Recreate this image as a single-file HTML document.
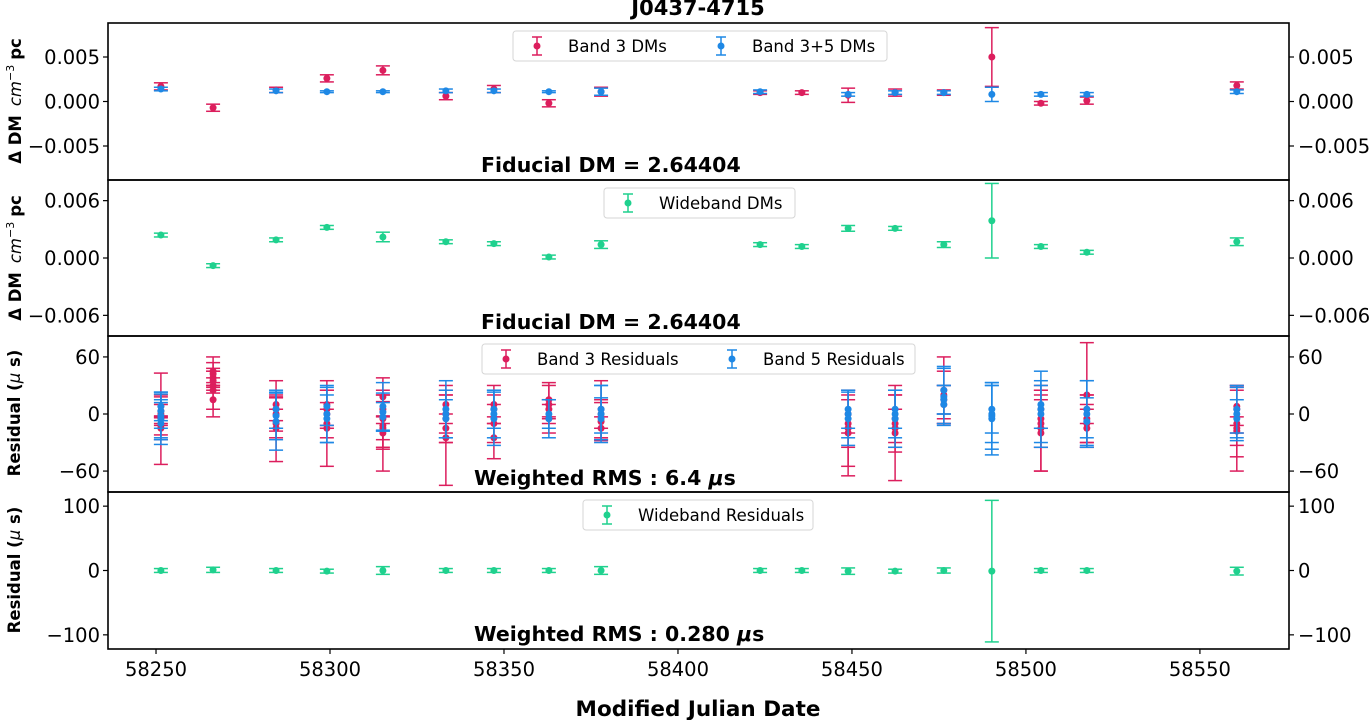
<!DOCTYPE html>
<html><head><meta charset="utf-8">
<style>
body{margin:0;background:#fff;}
svg{display:block;font-family:"DejaVu Sans","Liberation Sans",sans-serif;}
.tk{font-size:19.5px;fill:#000;}
.lg{font-size:16.5px;fill:#000;}
.bt{font-size:20.5px;font-weight:bold;fill:#000;}
</style></head>
<body>
<svg id="fig" width="1371" height="720" viewBox="0 0 1371 720">
<text x="698" y="15" text-anchor="middle" font-size="21" font-weight="bold">J0437-4715</text>
<text x="698" y="716" text-anchor="middle" font-size="21.5" font-weight="bold">Modified Julian Date</text>
<g id="layer"></g>
</svg>
<script>
const epochs=[58251.4,58266.4,58284.5,58299.1,58315.2,58333.3,58347.1,58362.9,58377.9,58423.6,58435.6,58448.9,58462.4,58476.4,58490.2,58504.3,58517.5,58560.6];
const b3DM=[0.0017,-0.0007,0.0013,0.0026,0.0035,0.0006,0.0014,-0.0002,0.0011,0.0010,0.0010,0.0007,0.0010,0.0010,0.0050,-0.0002,0.0001,0.0018];
const b3DMerr=[0.0004,0.0004,0.0003,0.0004,0.0005,0.0004,0.0004,0.0004,0.0005,0.0002,0.0002,0.0008,0.0004,0.0003,0.0033,0.0002,0.0004,0.0004];
const b35DM=[0.0014,null,0.0012,0.0011,0.0011,0.0012,0.0012,0.0011,0.0011,0.0011,null,0.0008,0.0010,0.0010,0.0008,0.0008,0.0008,0.0011];
const b35DMerr=[0.0002,null,0.0002,0.0001,0.0001,0.0002,0.0002,0.0001,0.0004,0.0002,null,0.0002,0.0002,0.0002,0.0008,0.0002,0.0002,0.0002];
const wbDM=[0.0024,-0.0008,0.0019,0.0032,0.0022,0.0017,0.0015,0.0001,0.0014,0.0014,0.0012,0.0031,0.0031,0.0014,0.0039,0.0012,0.0006,0.0017];
const wbDMerr=[0.0002,0.0002,0.0002,0.0002,0.0005,0.0002,0.0002,0.0002,0.0004,0.0002,0.0002,0.0003,0.0002,0.0003,0.0039,0.0002,0.0002,0.0004];
const b3Res=[[8,-12,-5,3,-15,0],[38,42,30,25,15,45,35],[10,-10,-15,5,0],[-15,5,10,-10,0],[18,-12,-20,5,-5,-15],[10,-25,-5,-15,0],[-25,-10,5,10],[10,-5,15,5],[-8,5,-15,0],[],[],[-15,-20,-10,0],[-10,-20,-5,-15],[20,15,25,10],[],[-15,-20,-10,5,-5],[20,-10,-5,5,-15],[-15,5,-10,8,-18]];
const b3ResErr=[[12,10,48,15,12,10],[10,12,8,20,18,15,10],[25,15,35,12,18],[40,20,25,15,12],[20,25,40,15,30,12],[20,50,25,15,20],[22,20,15,20],[20,15,18,10],[20,30,12,15],[],[],[40,45,25,20],[30,50,25,20],[25,15,35,20],[],[45,40,25,20,30],[55,20,25,15,20],[45,25,35,20,15]];
const b5Res=[[-5,3,-2,8,-10],[],[-2,5,-8],[0,-5,8],[2,8,-3],[0,-5,5],[0,5,-5],[-5,0],[5,-5,0],[],[],[0,5,-5],[0,-5,5],[18,10,25,15],[-2,0,5,-5],[5,0,10],[0,5,-8],[0,-5,5]];
const b5ResErr=[[20,18,25,15,22],[],[25,20,30],[30,25,20],[20,25,15],[25,20,30],[25,20,28],[20,15],[25,22,30],[],[],[25,20,28],[25,30,20],[30,20,25,15],[35,30,25,38],[40,30,25],[35,30,25],[28,20,25]];
const wbRes=[0,1,0,-1,0,0,0,0,0,0,0,-1,-1,0,-1,0,0,-1];
const wbResErr=[3,4,3,3,6,3,3,3,6,3,3,5,3,4,110,3,3,6];
const xTicks=[58250,58300,58350,58400,58450,58500,58550];

const NS="http://www.w3.org/2000/svg";
const L=document.getElementById('layer');
const PINK="#dc1e5d",BLUE="#1e88e5",GREEN="#1fd18e";
const X0=108,X1=1289,MJD0=58236.2,MJD1=58575.6;
function xs(m){return X0+(m-MJD0)/(MJD1-MJD0)*(X1-X0);}
function mk(tag,attrs,parent){const e=document.createElementNS(NS,tag);for(const k in attrs)e.setAttribute(k,attrs[k]);(parent||L).appendChild(e);return e;}
const panels=[
 {top:23,bot:180,lim:0.00882,ticks:[-0.005,0,0.005],fmt:v=>(v<0?'\u2212':'')+Math.abs(v).toFixed(3)},
 {top:180,bot:336,lim:0.00816,ticks:[-0.006,0,0.006],fmt:v=>(v<0?'\u2212':'')+Math.abs(v).toFixed(3)},
 {top:336,bot:492,lim:82,ticks:[-60,0,60],fmt:v=>(v<0?'\u2212':'')+Math.abs(v)},
 {top:492,bot:649,lim:122,ticks:[-100,0,100],fmt:v=>(v<0?'\u2212':'')+Math.abs(v)}
];
panels.forEach(p=>{p.ys=v=>(p.top+p.bot)/2-v/p.lim*(p.bot-p.top)/2;});
function errbar(g,x,y,e,color,p,name){
  const gg=mk('g',{},g);
  
  
  const y1=p.ys(y+e),y2=p.ys(y-e);
  mk('line',{x1:x,x2:x,y1:y1,y2:y2,stroke:color,'stroke-width':1.5},gg);
  mk('line',{x1:x-7,x2:x+7,y1:y1,y2:y1,stroke:color,'stroke-width':1.5},gg);
  mk('line',{x1:x-7,x2:x+7,y1:y2,y2:y2,stroke:color,'stroke-width':1.5},gg);
  mk('circle',{cx:x,cy:p.ys(y),r:3.5,fill:color},gg);
}
const g1=mk('g',{});
epochs.forEach((m,i)=>errbar(g1,xs(m),b3DM[i],b3DMerr[i],PINK,panels[0],'band3-dm-point'));
const g2=mk('g',{});
epochs.forEach((m,i)=>{if(b35DM[i]!==null)errbar(g2,xs(m),b35DM[i],b35DMerr[i],BLUE,panels[0],'band35-dm-point');});
const g3=mk('g',{});
epochs.forEach((m,i)=>errbar(g3,xs(m),wbDM[i],wbDMerr[i],GREEN,panels[1],'wideband-dm-point'));
const g4=mk('g',{});
epochs.forEach((m,i)=>b3Res[i].forEach((v,j)=>errbar(g4,xs(m),v,b3ResErr[i][j],PINK,panels[2],'band3-residual-point')));
const g5=mk('g',{});
epochs.forEach((m,i)=>b5Res[i].forEach((v,j)=>errbar(g5,xs(m),v,b5ResErr[i][j],BLUE,panels[2],'band5-residual-point')));
const g6=mk('g',{});
epochs.forEach((m,i)=>errbar(g6,xs(m),wbRes[i],wbResErr[i],GREEN,panels[3],'wideband-residual-point'));
panels.forEach((p,k)=>{
  const r=mk('rect',{x:X0,y:p.top,width:X1-X0,height:p.bot-p.top,fill:'none',stroke:'#000','stroke-width':1.6});
  
  
  p.ticks.forEach(v=>{
    const y=p.ys(v);
    mk('line',{x1:X0-5,x2:X0,y1:y,y2:y,stroke:'#000','stroke-width':1.2});
    mk('line',{x1:X1,x2:X1+5,y1:y,y2:y,stroke:'#000','stroke-width':1.2});
    const t=mk('text',{x:X0-8,y:y+7,'text-anchor':'end',class:'tk'});t.textContent=p.fmt(v);
    
    
    const t2=mk('text',{x:X1+9,y:y+7,class:'tk'});t2.textContent=p.fmt(v);
    
    
  });
});
xTicks.forEach(m=>{
  const x=xs(m);
  mk('line',{x1:x,x2:x,y1:649,y2:654,stroke:'#000','stroke-width':1.2});
  const t=mk('text',{x:x,y:676,'text-anchor':'middle',class:'tk'});t.textContent=m;
  
  
});
function ylab(cx,cy,html,name){
  const t=mk('text',{transform:`translate(${cx},${cy}) rotate(-90)`,'text-anchor':'middle','font-size':16.5});
  t.innerHTML=html;
  
  
}
const dmLab='<tspan font-weight="bold">Δ DM</tspan><tspan font-style="italic" dx="9">cm</tspan><tspan font-size="11" dy="-7">−3</tspan><tspan font-weight="bold" dy="7" dx="5">pc</tspan>';
ylab(21,101,dmLab,'y-axis-title-dm');
ylab(21,258,dmLab,'y-axis-title-wideband-dm');
ylab(20,413,'<tspan font-weight="bold">Residual (</tspan><tspan font-style="italic">μ</tspan><tspan font-weight="bold"> s)</tspan>','y-axis-title-residual');
ylab(20,570,'<tspan font-weight="bold">Residual (</tspan><tspan font-style="italic">μ</tspan><tspan font-weight="bold"> s)</tspan>','y-axis-title-wideband-residual');
function ann(x,y,html,name){const t=mk('text',{x:x,y:y,class:'bt'});t.innerHTML=html;}
ann(481,172,'Fiducial DM = 2.64404','fiducial-dm-label');
ann(481,329,'Fiducial DM = 2.64404','fiducial-dm-label-wideband');
ann(474,485,'Weighted RMS : 6.4 <tspan font-style="italic">μ</tspan>s','weighted-rms-label');
ann(474,641,'Weighted RMS : 0.280 <tspan font-style="italic">μ</tspan>s','weighted-rms-label-wideband');
function legend(x,y,w,items,name){
  const g=mk('g',{});
  
  
  mk('rect',{x:x,y:y,width:w,height:30,rx:3,fill:'#fff',stroke:'#d6d6d6','stroke-width':1},g);
  items.forEach(it=>{
    const e=mk('g',{},g);
    
    
    const cx=x+it.dx,cy=y+15;
    mk('line',{x1:cx,x2:cx,y1:cy-9,y2:cy+9,stroke:it.c,'stroke-width':1.5},e);
    mk('line',{x1:cx-5,x2:cx+5,y1:cy-9,y2:cy-9,stroke:it.c,'stroke-width':1.5},e);
    mk('line',{x1:cx-5,x2:cx+5,y1:cy+9,y2:cy+9,stroke:it.c,'stroke-width':1.5},e);
    mk('circle',{cx:cx,cy:cy,r:3.5,fill:it.c},e);
    const t=mk('text',{x:cx+31,y:cy+6,class:'lg'},e);t.textContent=it.t;
  });
}
legend(513,31,374,[{dx:24,c:PINK,t:'Band 3 DMs'},{dx:208,c:BLUE,t:'Band 3+5 DMs'}],'legend-dm');
legend(604,188,191,[{dx:24,c:GREEN,t:'Wideband DMs'}],'legend-wideband-dm');
legend(482,344,433,[{dx:24,c:PINK,t:'Band 3 Residuals'},{dx:250,c:BLUE,t:'Band 5 Residuals'}],'legend-residuals');
legend(583,500,230,[{dx:24,c:GREEN,t:'Wideband Residuals'}],'legend-wideband-residuals');
</script>
</body></html>
